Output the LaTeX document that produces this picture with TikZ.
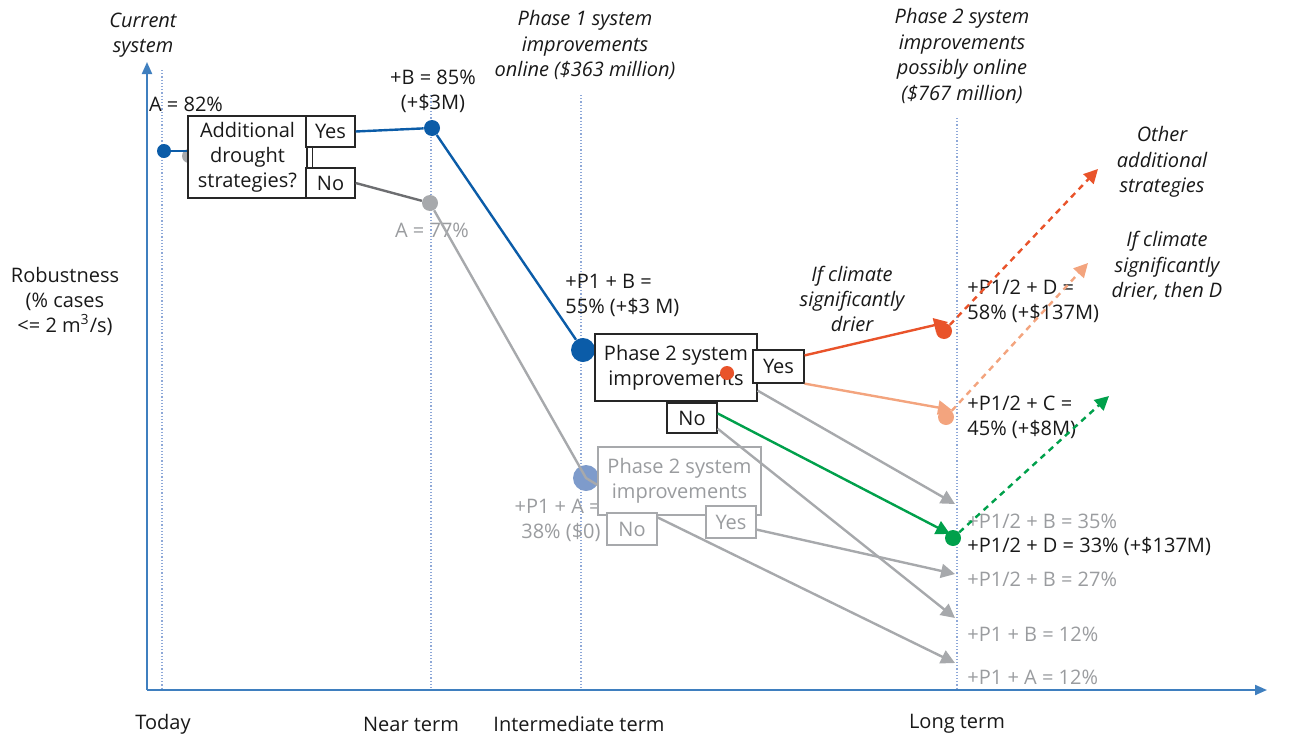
\documentclass[tikz,border=0pt]{standalone}
\usepackage{fontspec}
\setmainfont{Open Sans}
\usetikzlibrary{arrows.meta,positioning}

\definecolor{axisblue}{HTML}{3F7FBF}
\definecolor{pathblue}{HTML}{0B5CA8}
\definecolor{paleblue}{HTML}{7E9BCB}
\definecolor{gridblue}{HTML}{8EA8D8}
\definecolor{pathgray}{HTML}{A7A9AC}
\definecolor{pathdark}{HTML}{6D6E71}
\definecolor{textgray}{HTML}{9A9C9F}
\definecolor{dryred}{HTML}{E9532A}
\definecolor{drysalmon}{HTML}{F3A47E}
\definecolor{pathgreen}{HTML}{00A04B}

\begin{document}
\begin{tikzpicture}[
        x=0.5pt, y=-0.5pt,
        >={Triangle[length=7pt, width=7pt]},
        txt/.style={font=\fontsize{10}{12.5}\selectfont, text=black!90, inner sep=0pt, align=center},
        note/.style={txt, font=\fontsize{10}{12.7}\selectfont\itshape},
        faded/.style={txt, text=textgray},
        box/.style={txt, rectangle, draw=black!85, fill=white, line width=0.6pt},
        fadedbox/.style={box, draw=pathgray, text=textgray},
        bullet/.style={circle, inner sep=0pt, minimum size=8pt},
        link/.style={line width=1.2pt},
        guide/.style={densely dotted, gridblue, line width=0.6pt},
        axis/.style={axisblue, line width=1pt, -{Triangle[length=6pt, width=5pt]}},
        future/.style={link, dash pattern=on 3pt off 2.5pt, ->}
    ]
    \useasboundingbox (0,0) rectangle (1290,739);

    % axes and time guides
    \coordinate (origin) at (147,690);
    \coordinate (y-top) at (147,62);
    \coordinate (x-end) at (1267,690);
    \draw[guide] (162,70) -- (162,690);
    \draw[guide] (431,95) -- (431,690);
    \draw[guide] (581,95) -- (581,690);
    \draw[guide] (957,118) -- (957,690);
    \draw[axis] (origin) -- (y-top);
    \draw[axis] (origin) -- (x-end);

    % axis and time labels
    \node[txt] (y-label) at (65,301) {Robustness\\(\% cases\\<= 2 m\textsuperscript{3}/s)};
    \node[txt] (today) at (163,724) {Today};
    \node[txt] (near) at (411,724) {Near term};
    \node[txt] (intermediate) at (579,724) {Intermediate term};
    \node[txt] (long) at (957,724) {Long term};
    \node[note] (current-label) at (143,35) {Current\\system};
    \node[note] (phase1-label) at (585,45) {Phase 1 system\\improvements\\online (\$363 million)};
    \node[note] (phase2-label) at (962,56) {Phase 2 system\\improvements\\possibly online\\(\$767 million)};

    % value labels
    \node[txt] (a82-label) at (186,104) {A = 82\%};
    \node[txt] (b85-label) at (433,91) {+B = 85\%\\(+\$3M)};
    \node[faded] (a77-label) at (432,230) {A = 77\%};
    \node[txt, anchor=west, align=left] (p1b-label) at (565,295) {+P1 + B =\\55\% (+\$3 M)};
    \node[faded, anchor=east, align=right] (p1a-label) at (601,520) {+P1 + A =\\38\% (\$0)};
    \node[txt, anchor=west, align=left] (d58-label) at (967,301) {+P1/2 + D =\\58\% (+\$137M)};
    \node[txt, anchor=west, align=left] (c45-label) at (967,417) {+P1/2 + C =\\45\% (+\$8M)};
    \node[faded, anchor=west] (b35-label) at (967,521) {+P1/2 + B = 35\%};
    \node[txt, anchor=west] (d33-label) at (967,546) {+P1/2 + D = 33\% (+\$137M)};
    \node[faded, anchor=west] (b27-label) at (967,579) {+P1/2 + B = 27\%};
    \node[faded, anchor=west] (b12-label) at (967,634) {+P1 + B = 12\%};
    \node[faded, anchor=west] (a12-label) at (967,677) {+P1 + A = 12\%};
    \node[note] (dry-note) at (852,299) {If climate\\significantly\\drier};
    \node[note] (other-note) at (1162,162) {Other\\additional\\strategies};
    \node[note] (dryd-note) at (1167,266) {If climate\\significantly\\drier, then D};

    % end points on the long term guide
    \coordinate (d58-in) at (948,322);
    \coordinate (c45-in) at (952,410);
    \coordinate (b35-in) at (955,504);
    \coordinate (d33-in) at (950,534);
    \coordinate (b27-in) at (955,574);
    \coordinate (b12-in) at (955,618);
    \coordinate (a12-in) at (955,663);
    \coordinate (other-tip) at (1098,169);
    \coordinate (dry-tip) at (1088,263);
    \coordinate (green-tip) at (1109,396);

    % outcome markers
    \node[bullet, fill=pathgray, minimum size=7pt] (a82g) at (189,156) {};
    \node[bullet, fill=pathblue, minimum size=7pt] (a82) at (164,151) {};
    \node[bullet, fill=pathblue] (b85) at (432,128) {};
    \node[bullet, fill=pathgray] (a77) at (430,203) {};
    \node[bullet, fill=pathblue, minimum size=12pt] (p1b) at (583,350) {};
    \node[bullet, fill=paleblue, minimum size=13pt] (p1a) at (586,478) {};
    \node[bullet, fill=dryred] (d58) at (944,331) {};
    \node[bullet, fill=drysalmon] (c45) at (946,417) {};
    \node[bullet, fill=pathgreen] (d33) at (953,538) {};

    % decision boxes
    \node[box, minimum width=59.5pt, minimum height=41pt] (strategies) at (247.5,157) {Additional\\drought\\strategies?};
    \node[box, minimum width=24.5pt, minimum height=15.5pt] (yes1) at (330.5,131.5) {Yes};
    \node[box, minimum width=24.5pt, minimum height=15pt] (no1) at (330.5,183) {No};
    \node[box, minimum width=81pt, minimum height=33.5pt] (phase2) at (676,367.5) {Phase 2 system\\improvements};
    \node[box, minimum width=25.5pt, minimum height=16.5pt] (yes2) at (778.5,366.5) {Yes};
    \node[box, minimum width=25pt, minimum height=15pt] (no2) at (692,418) {No};
    \node[fadedbox, minimum width=81.5pt, minimum height=34pt] (phase2b) at (679.5,481) {Phase 2 system\\improvements};
    \node[fadedbox, minimum width=25pt, minimum height=16pt] (no3) at (632,529) {No};
    \node[fadedbox, minimum width=25pt, minimum height=16pt] (yes3) at (731,522) {Yes};
    \node[bullet, fill=dryred, minimum size=7pt] (mark) at (727,373) {};

    % near term branches
    \draw[link, pathblue] (a82) -- (a82 -| strategies.west);
    \draw[line width=0.6pt, black!85] ([xshift=-9pt]yes1.south) -- ([xshift=-9pt]no1.north);
    \draw[link, pathblue] (yes1.east) -- (b85) -- (p1b);
    \draw[link, pathdark] (no1.east) -- (a77);
    \draw[link, pathgray] (a77) -- (p1a.center) -- ([yshift=-2pt]phase2b.west);

    % long term branches
    \draw[link, dryred, ->] ([yshift=-3pt]yes2.north east) -- (d58-in);
    \draw[link, drysalmon, ->] (yes2.south east) -- (c45-in);
    \draw[link, pathgray, ->] ([yshift=5.5pt]phase2.south east) -- (b35-in);
    \draw[link, pathgreen, ->] ([yshift=-5.5pt]no2.north east) -- (d33-in);
    \draw[link, pathgray, ->] ([yshift=2.5pt]no2.south east) -- (b12-in);
    \draw[link, pathgray, ->] ([yshift=4.5pt]yes3.south east) -- (b27-in);
    \draw[link, pathgray, ->] ([yshift=-2.5pt]no3.north east) -- (a12-in);

    % further options
    \draw[future, dryred] (d58) -- (other-tip);
    \draw[future, drysalmon] (c45) -- (dry-tip);
    \draw[future, pathgreen] (d33) -- (green-tip);

\end{tikzpicture}
\end{document}
